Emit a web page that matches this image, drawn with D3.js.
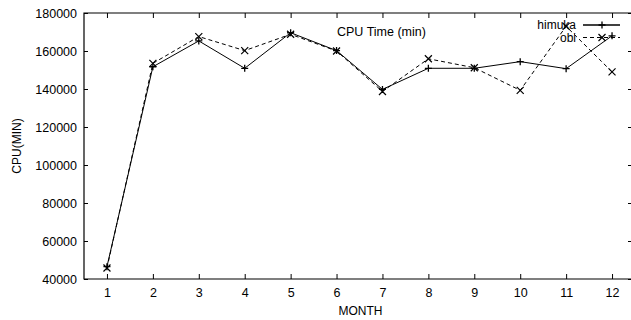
<!DOCTYPE html>
<html>
<head>
<meta charset="utf-8">
<script src="https://cdn.jsdelivr.net/npm/d3@7"></script>
<style>
  body { margin: 0; background: #fff; }
  svg text { font-family: "Liberation Sans", Arial, sans-serif; fill: #000; }
</style>
</head>
<body>
<svg id="chart" width="631" height="320"></svg>
<script>
// monthly CPU time (min)
const months = [1, 2, 3, 4, 5, 6, 7, 8, 9, 10, 11, 12];
const himuka = [46500, 151700, 165300, 150900, 169600, 160200, 139800, 150900, 150900, 154400, 150700, 168000];
const obi = [45800, 153500, 167600, 160200, 168800, 160000, 138700, 155900, 151200, 139300, 173000, 149000];
const yTicks = [40000, 60000, 80000, 100000, 120000, 140000, 160000, 180000];

const svg = d3.select("#chart");
const plotLeft = 84, plotTop = 13, plotRight = 635, plotBottom = 279;

const x = d3.scaleLinear().domain([0.5, 12.5]).range([plotLeft, plotRight]);
const y = d3.scaleLinear().domain([40000, 180000]).range([plotBottom, plotTop]);

// border (left, top, bottom; right edge falls off the page)
svg.append("path")
  .attr("d", `M${plotRight},${plotTop}H${plotLeft}V${plotBottom}H${plotRight}`)
  .attr("fill", "none").attr("stroke", "#000").attr("stroke-width", 1.2);

// bottom axis
const xAxis = svg.append("g").attr("transform", `translate(0,${plotBottom})`)
  .call(d3.axisBottom(x).tickValues(months).tickSize(-5).tickPadding(9).tickFormat(d3.format("d")));
xAxis.select(".domain").remove();
xAxis.selectAll("text").attr("font-size", 12.5);

// top ticks
svg.append("g").attr("transform", `translate(0,${plotTop})`)
  .call(d3.axisTop(x).tickValues(months).tickSize(-5).tickFormat(""))
  .select(".domain").remove();

// left axis
const yAxis = svg.append("g").attr("transform", `translate(${plotLeft},0)`)
  .call(d3.axisLeft(y).tickValues(yTicks).tickSize(-4).tickPadding(7).tickFormat(d3.format("d")));
yAxis.select(".domain").remove();
yAxis.selectAll("text").attr("font-size", 12.5);

// right ticks
svg.append("g").attr("transform", `translate(${plotRight - 4},0)`)
  .call(d3.axisRight(y).tickValues(yTicks).tickSize(-3).tickFormat(""))
  .select(".domain").remove();

// axis labels
svg.append("text").attr("x", (plotLeft + plotRight) / 2 + 1).attr("y", 315)
  .attr("text-anchor", "middle").attr("font-size", 12).text("MONTH");
svg.append("text").attr("transform", `translate(21,${(plotTop + plotBottom) / 2}) rotate(-90)`)
  .attr("text-anchor", "middle").attr("font-size", 12).text("CPU(MIN)");

// title
svg.append("text").attr("x", 337).attr("y", 36).attr("font-size", 12.5).text("CPU Time (min)");

const line = d3.line().x((d, i) => x(months[i])).y(d => y(d));

function plus(g, px, py, s) {
  g.append("path").attr("d", `M${px - s},${py}H${px + s}M${px},${py - s}V${py + s}`)
    .attr("stroke", "#000").attr("stroke-width", 1.3);
}
function cross(g, px, py, s) {
  g.append("path").attr("d", `M${px - s},${py - s}L${px + s},${py + s}M${px - s},${py + s}L${px + s},${py - s}`)
    .attr("stroke", "#000").attr("stroke-width", 1.2);
}

const series = [
  { name: "himuka", values: himuka, dash: null, mark: plus },
  { name: "obi", values: obi, dash: "4,3", mark: cross }
];

series.forEach(s => {
  const g = svg.append("g");
  g.append("path").datum(s.values).attr("d", line)
    .attr("fill", "none").attr("stroke", "#000").attr("stroke-width", 1)
    .attr("stroke-dasharray", s.dash);
  s.values.forEach((v, i) => s.mark(g, x(months[i]), y(v), 3.5));
});

// legend
series.forEach((s, i) => {
  const ly = 25 + i * 12.5;
  svg.append("text").attr("x", 576).attr("y", ly + 4).attr("text-anchor", "end")
    .attr("font-size", 12).text(s.name);
  svg.append("line").attr("x1", 583).attr("x2", 620).attr("y1", ly).attr("y2", ly)
    .attr("stroke", "#000").attr("stroke-width", i === 0 ? 1.5 : 1)
    .attr("stroke-dasharray", s.dash);
  s.mark(svg, 602, ly, 3.5);
});
</script>
</body>
</html>
